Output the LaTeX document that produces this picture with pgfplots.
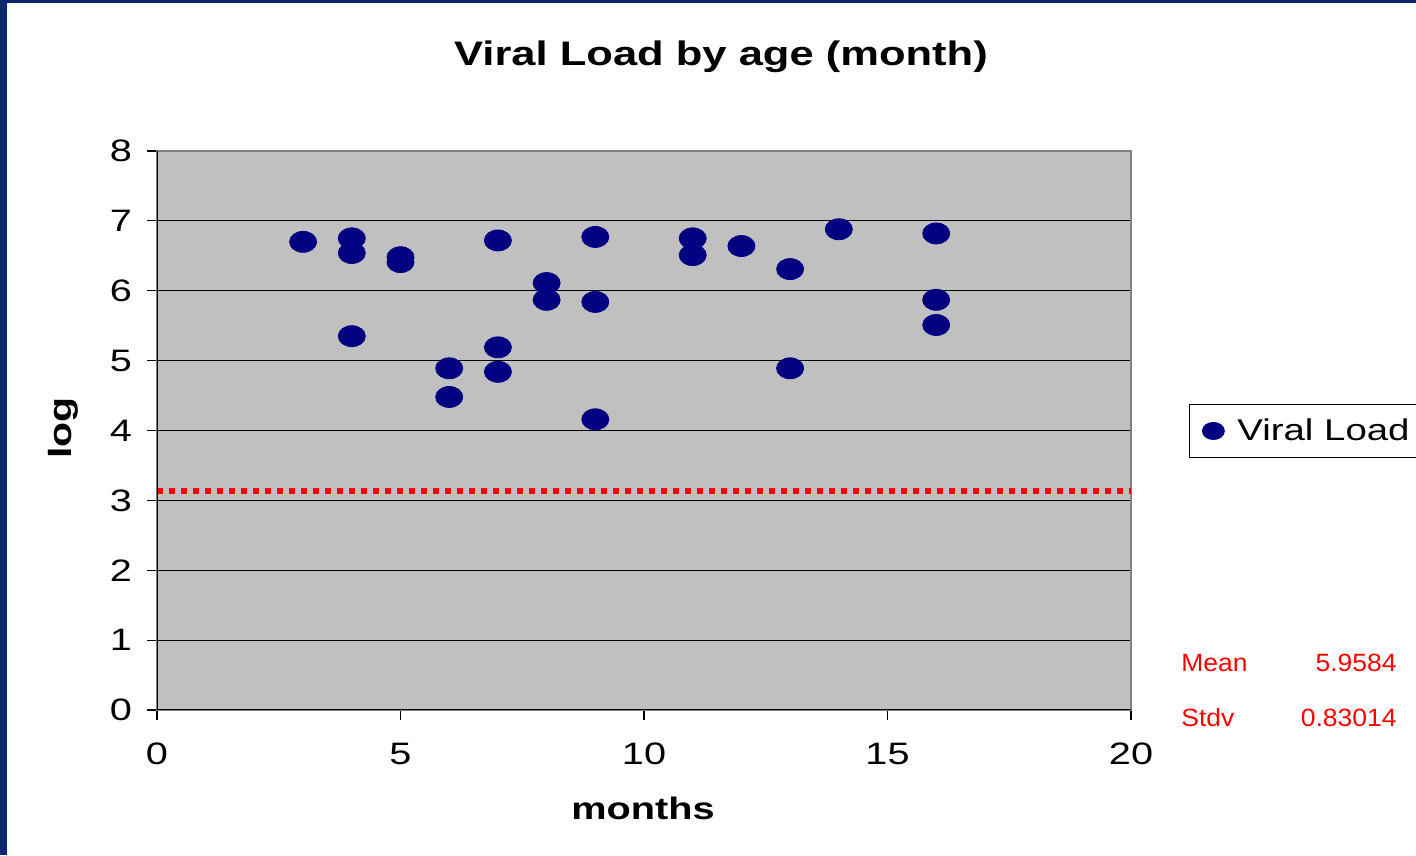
\documentclass[border=0pt]{standalone}
\usepackage{graphicx}
\usepackage{pgfplots}
\pgfplotsset{compat=1.18}
\usepackage{fontspec}
\setmainfont{Liberation Sans}
\definecolor{slideblue}{RGB}{14,38,110}
\definecolor{plotgray}{RGB}{192,192,192}
\definecolor{navy}{RGB}{0,0,128}
\newcommand{\wide}[1]{\scalebox{1.28}[1]{#1}}
\begin{document}
\begin{tikzpicture}[x=1pt,y=1pt]
\useasboundingbox (0,0) rectangle (708,427.5);
\clip (0,0) rectangle (708,427.5);
\fill[white] (0,0) rectangle (708,427.5);
\fill[slideblue] (0,0) rectangle (3.5,427.5);
\fill[slideblue] (0,426) rectangle (708,427.5);
\begin{axis}[
  at={(78.5pt,72.5pt)}, anchor=south west,
  scale only axis, width=487pt, height=279.5pt,
  xmin=0, xmax=20, ymin=0, ymax=8,
  xtick={0,5,10,15,20}, ytick={0,1,...,8},
  ymajorgrids, major grid style={black, line width=0.6pt},
  axis background/.style={fill=plotgray},
  axis line style={draw=gray, line width=0.8pt},
  tick align=outside, major tick length=5pt,
  tick style={black, line width=0.6pt},
  xtick pos=bottom, ytick pos=left,
  /pgf/number format/assume math mode=true,
  ticklabel style={font=\fontsize{15.5}{18}\selectfont},
  xticklabel={\wide{\pgfmathprintnumber{\tick}}},
  yticklabel={\wide{\pgfmathprintnumber{\tick}}},
  yticklabel style={xshift=-4pt},
  xticklabel style={yshift=-8pt},
  legend style={at={(rel axis cs:1.0595,0.5474)}, anchor=north west,
    draw=black, fill=white, line width=0.6pt,
    font=\fontsize{15}{18}\selectfont, inner xsep=6.5pt, inner ysep=5pt},
  legend image code/.code={\draw[#1, mark size=4.2pt] plot coordinates {(0.1cm,0cm)}; \path[draw=none, fill=none] (0.1cm,0pt) -- ++(10pt,0pt);},
]
\addplot[only marks, mark=*, mark size=5.25pt, mark options={xscale=1.29, fill=navy, draw=navy}, color=navy]
coordinates {
(3,6.70) (4,6.75) (4,6.54) (4,5.35) (5,6.48) (5,6.41) (6,4.89) (6,4.48)
(7,6.72) (7,5.19) (7,4.84) (8,6.11) (8,5.87) (9,6.77) (9,5.84) (9,4.16)
(11,6.75) (11,6.51) (12,6.64) (13,6.31) (13,4.89) (14,6.88) (16,6.82)
(16,5.87) (16,5.51)
};
\addlegendentry{\wide{Viral Load}}
\addplot[red, line width=3pt, dash pattern=on 3pt off 3pt, forget plot] coordinates {(0,3.13) (20,3.13)};
\draw[black, line width=0.8pt] (rel axis cs:0,1) -- (rel axis cs:0,0) -- (rel axis cs:1,0);
\end{axis}
\node[font=\bfseries\fontsize{17}{20}\selectfont] at (360.5,399) {\wide{Viral Load by age (month)}};
\node[font=\bfseries\fontsize{15.5}{18}\selectfont] at (321.5,23.5) {\wide{months}};
\node[font=\bfseries\fontsize{16}{19}\selectfont, rotate=90] at (31.5,213.5) {\wide{log}};
\node[red, font=\fontsize{12.5}{15}\selectfont, anchor=west, inner sep=0pt] at (590.5,96) {\scalebox{1.06}[1]{Mean}};
\node[red, font=\fontsize{12.5}{15}\selectfont, anchor=east, inner sep=0pt] at (698.5,96) {\scalebox{1.06}[1]{5.9584}};
\node[red, font=\fontsize{12.5}{15}\selectfont, anchor=west, inner sep=0pt] at (590.5,68.5) {\scalebox{1.06}[1]{Stdv}};
\node[red, font=\fontsize{12.5}{15}\selectfont, anchor=east, inner sep=0pt] at (698.5,68.5) {\scalebox{1.06}[1]{0.83014}};
\end{tikzpicture}
\end{document}
